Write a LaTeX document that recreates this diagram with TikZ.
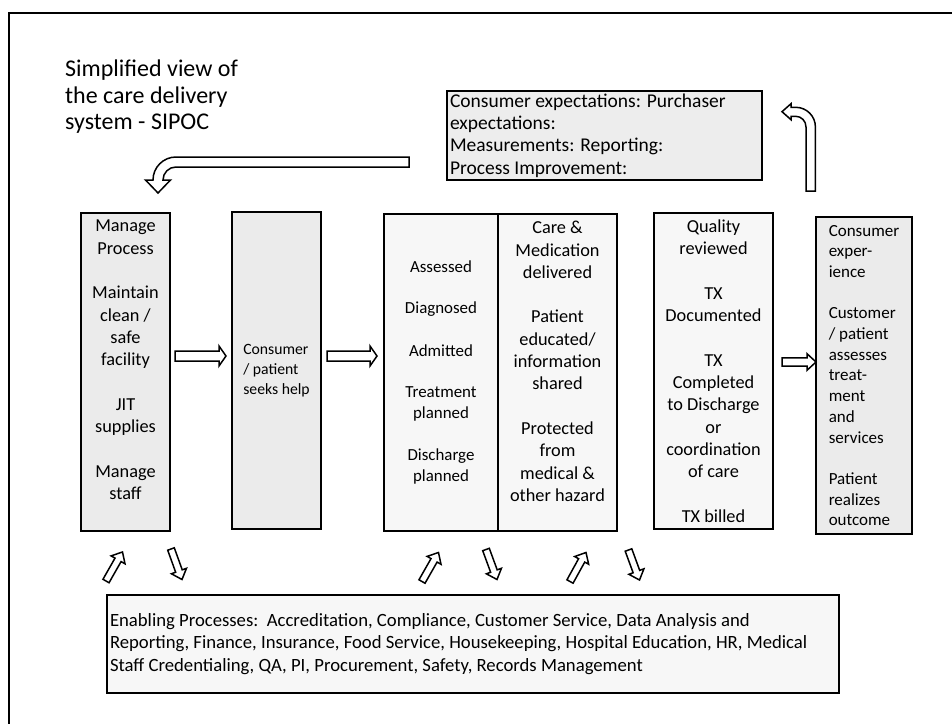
\documentclass[tikz,border=0pt]{standalone}
\usepackage{fontspec}
\setmainfont{Carlito}
\usetikzlibrary{calc}

\newcommand{\titlefont}{\fontsize{24}{26.5}\selectfont}
\newcommand{\boxfont}{\fontsize{18.3}{22.3}\selectfont}
\newcommand{\gap}{22.3pt}

\tikzset{
  stage/.style={draw=black, line width=2pt, inner sep=0pt},
  darkstage/.style={stage, fill=black!8},
  lightstage/.style={stage, fill=black!3},
  boxtext/.style={inner sep=0pt, font=\boxfont, align=center},
  fatarrow/.style n args={3}{%
    draw=black, fill=white, line width=1.5pt, line join=miter,
    to path={
      let \p1=($(\tikztotarget)!#3!(\tikztostart)$) in
      ($(\tikztostart)!#1!90:(\tikztotarget)$)
      -- ($(\p1)!#1!-90:(\tikztostart)$)
      -- ($(\p1)!#2!-90:(\tikztostart)$)
      -- (\tikztotarget)
      -- ($(\p1)!#2!90:(\tikztostart)$)
      -- ($(\p1)!#1!90:(\tikztostart)$)
      -- ($(\tikztostart)!#1!-90:(\tikztotarget)$)
      -- cycle}},
  bentarrow/.style={draw=black, fill=white, line width=1.5pt, line join=miter}
}

\begin{document}
\begin{tikzpicture}[x=1pt, y=-1pt]
\useasboundingbox (0,0) rectangle (952,723);
\draw[line width=2pt] (9.3,12.7) rectangle (990,760);

% title
\node[inner sep=0pt, font=\titlefont, align=left, anchor=north west] (title) at (65,60)
  {Simplified view of\\the care delivery\\system - SIPOC};

% stages
\node[darkstage, minimum width=89pt, minimum height=318pt] (mgmt) at (125.5,372) {};
\node[boxtext, anchor=north] (mgmttxt) at ([yshift=-8pt]mgmt.north)
  {Manage\\Process\\[\gap]Maintain\\clean /\\safe\\facility\\[\gap]JIT\\supplies\\[\gap]Manage\\staff};

\node[darkstage, minimum width=89pt, minimum height=317pt, font=\fontsize{15.7}{19.7}\selectfont,
  align=left] (seek) at (276.5,370.5) {Consumer\\/ patient\\seeks help};

\node[lightstage, minimum width=114pt, minimum height=317pt, font=\fontsize{16.9}{21}\selectfont,
  align=center] (assess) at (441,372.5)
  {Assessed\\[20pt]Diagnosed\\[22pt]Admitted\\[20pt]Treatment\\planned\\[21pt]Discharge\\planned};
\node[lightstage, minimum width=119pt, minimum height=317pt] (care) at (557.5,372.5) {};
\node[boxtext, anchor=north] (caretxt) at ([yshift=-8pt]care.north)
  {Care \&\\Medication\\delivered\\[\gap]Patient\\educated/\\information\\shared\\[\gap]Protected\\from\\medical \&\\other hazard};

\node[lightstage, minimum width=119pt, minimum height=316pt, font=\boxfont, align=center] (qual) at (713.5,371)
  {Quality\\reviewed\\[\gap]TX\\Documented\\[\gap]TX\\Completed\\to Discharge\\or\\coordination\\of care\\[\gap]TX billed};

\node[darkstage, minimum width=96pt, minimum height=317pt, font=\fontsize{17}{20.7}\selectfont,
  align=left] (outcome) at (864,375.5)
  {Consumer\\exper-\\ience\\[20.7pt]Customer\\/ patient\\assesses\\treat-\\ment\\and\\services\\[20.7pt]Patient\\realizes\\outcome};

% feedback and enabling boxes
\node[stage, fill=black!7, minimum width=315pt, minimum height=89pt, inner xsep=3pt, text width=309pt,
  font=\fontsize{19.5}{22.3}\selectfont, align=flush left] (expect) at (604.5,135.5)
  {Consumer expectations: Purchaser\\expectations:\\Measurements: Reporting:\\Process Improvement:};
\node[lightstage, minimum width=732pt, minimum height=98pt, inner xsep=3pt, text width=726pt,
  font=\fontsize{18.7}{22.3}\selectfont, align=flush left] (enable) at (473,644)
  {Enabling Processes:\ \ Accreditation, Compliance, Customer Service, Data Analysis and\\
   Reporting, Finance, Insurance, Food Service, Housekeeping, Hospital Education, HR, Medical\\
   Staff Credentialing, QA, PI, Procurement, Safety, Records Management};

% block arrows
\coordinate (h1s) at (175,356);   \coordinate (h1e) at (226,356);
\coordinate (h2s) at (327,356);   \coordinate (h2e) at (377,356);
\coordinate (h3s) at (782,362);   \coordinate (h3e) at (816,362);
\draw[fatarrow={5pt}{10pt}{7pt}] (h1s) to (h1e);
\draw[fatarrow={5pt}{10pt}{7pt}] (h2s) to (h2e);
\draw[fatarrow={4.2pt}{8.3pt}{9pt}] (h3s) to (h3e);

\coordinate (up1s) at (106,581);   \coordinate (up1e) at (122.5,552);
\coordinate (dn1s) at (171,549);   \coordinate (dn1e) at (182,579.5);
\coordinate (up2s) at (422,581.5); \coordinate (up2e) at (438.5,552.5);
\coordinate (dn2s) at (486,549.5); \coordinate (dn2e) at (497,579.5);
\coordinate (up3s) at (570,581.5); \coordinate (up3e) at (586,552.5);
\coordinate (dn3s) at (628.5,550); \coordinate (dn3e) at (639.5,580);
\foreach \a in {up1,dn1,up2,dn2,up3,dn3}
  \draw[fatarrow={3.5pt}{8pt}{9pt}] (\a s) to (\a e);

% bent arrows
\draw[bentarrow] (409,157) -- (176,157) .. controls (163.3,157) and (153,167.3) .. (153,180)
  -- (145.5,180) -- (158,193) -- (170.5,180) -- (163,180)
  .. controls (163,172.8) and (168.8,167) .. (176,167) -- (409,167) -- cycle;
\draw[bentarrow] (815.4,191) -- (815.4,127) .. controls (815.4,116.1) and (806.6,107.3) .. (795.7,107.3)
  -- (791,107.3) -- (791,103.7) -- (782,111.7) -- (791,119.7) -- (791,116.3) -- (795.7,116.3)
  .. controls (801.4,116.3) and (806,121) .. (806,127) -- (806,191) -- cycle;
\end{tikzpicture}
\end{document}
